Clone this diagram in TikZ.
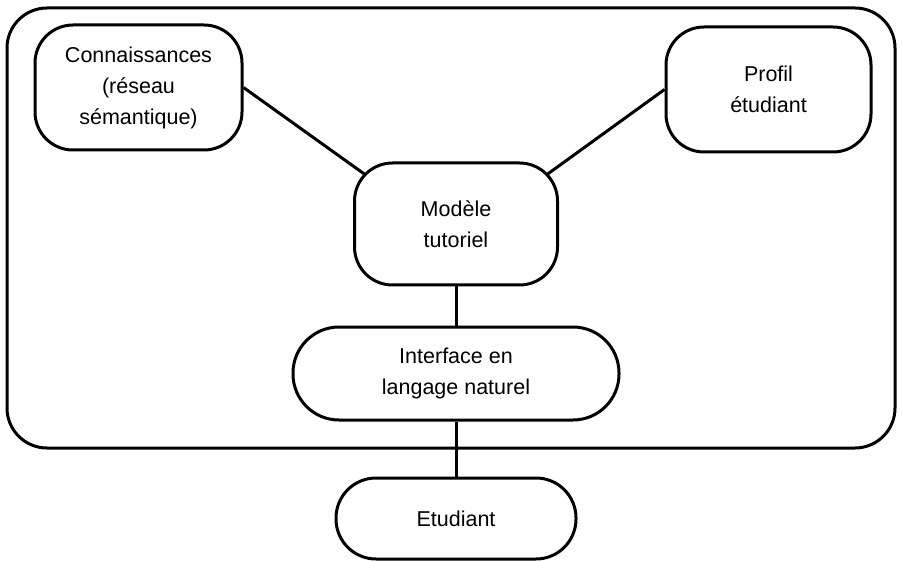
\documentclass[tikz,border=0pt]{standalone}
\usepackage{fontspec}
\setmainfont{Liberation Sans}
\tikzset{
  box/.style={draw, line width=3pt, align=center, inner sep=0pt,
    font=\fontsize{21.5}{31}\selectfont},
  conn/.style={line width=3pt},
}
\begin{document}
\begin{tikzpicture}[x=1pt, y=-1pt]
\useasboundingbox (0,0) rectangle (902,561);
% outer frame
\draw[line width=3pt, rounded corners=40pt] (7,8) rectangle (895,448);
% nodes
\node[box, minimum width=207pt, minimum height=125pt, rounded corners=38pt] (c) at (138.5,87.5) {Connaissances\\(réseau\\sémantique)};
\node[box, minimum width=205pt, minimum height=125pt, rounded corners=38pt] (p) at (768.5,89.5) {Profil\\étudiant};
\node[box, minimum width=203pt, minimum height=122pt, rounded corners=38pt] (m) at (456,224) {Modèle\\tutoriel};
\node[box, minimum width=326pt, minimum height=93pt, rounded corners=46pt] (i) at (456,373.5) {Interface en\\langage naturel};
\node[box, minimum width=240pt, minimum height=81pt, rounded corners=40pt] (e) at (456,518.5) {Etudiant};
% connectors
\draw[conn] (c.east) -- ([shift={(12pt,-13pt)}]m.north west);
\draw[conn] (p.west) -- ([shift={(-12pt,-13pt)}]m.north east);
\draw[conn] (m.south) -- (i.north);
\draw[conn] (i.south) -- (e.north);
\end{tikzpicture}
\end{document}
